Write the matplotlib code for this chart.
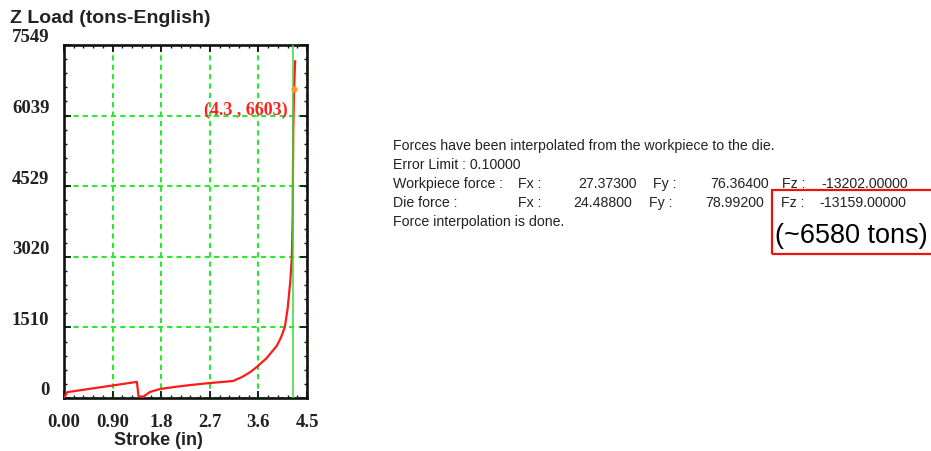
import matplotlib
matplotlib.use("Agg")
import matplotlib.pyplot as plt
import matplotlib.transforms as mtransforms
from matplotlib.patches import Rectangle
from matplotlib.ticker import MultipleLocator

# Z load vs stroke
stroke = [0.0, 0.06, 0.5, 1.0, 1.35, 1.38, 1.46, 1.59, 1.78, 2.09, 2.4, 2.7, 3.0,
          3.13, 3.3, 3.45, 3.57, 3.75, 3.94, 4.02, 4.09, 4.14, 4.19, 4.22, 4.235,
          4.245, 4.26, 4.28]
load = [0, 125, 200, 285, 345, 40, 20, 128, 193, 243, 285, 320, 350,
        364, 450, 555, 664, 850, 1114, 1300, 1520, 1900, 2485, 3020, 3900,
        5700, 6603, 7200]

peak_x = 4.26
peak_y = 6603
marker_x = 4.245

x_ticks = [0.0, 0.9, 1.8, 2.7, 3.6, 4.5]
x_labels = ["0.00", "0.90", "1.8", "2.7", "3.6", "4.5"]
y_ticks = [0, 1510, 3020, 4529, 6039, 7549]
y_labels = ["0", "1510", "3020", "4529", "6039", "7549"]

log_lines = [
    "Forces have been interpolated from the workpiece to the die.",
    "Error Limit : 0.10000",
]
row_names = ["Workpiece force :", "Die force :"]
fx_vals = ["27.37300", "24.48800"]
fy_vals = ["76.36400", "78.99200"]
fz_vals = ["-13202.00000", "-13159.00000"]
last_line = "Force interpolation is done."
tons_note = "(~6580 tons)"

W, H = 931, 452


def fx(px):
    return px / W


def fy(py):
    return 1 - py / H


fig = plt.figure(figsize=(W / 100, H / 100), dpi=100)
ax = fig.add_axes([fx(64), fy(399), 243 / W, 353 / H])

serif_bold = dict(family="Liberation Serif", weight="bold")
green = "#2ee82e"

ax.plot(stroke, load, color="#ff1a1a", lw=1.6, zorder=3)
ax.axvline(marker_x, color="#33dd33", lw=1.1, zorder=4)
ax.plot([peak_x], [peak_y], "o", color="#ff9a1a", ms=3.5, zorder=5)
ax.annotate(f"({peak_x:.1f} , {peak_y})", xy=(peak_x, peak_y),
            xytext=(-4.5, -17.5), textcoords="offset points",
            ha="right", va="baseline", color="#ff2020", fontsize=13,
            **serif_bold)

ax.set_xlim(0, 4.5)
ax.set_ylim(0, 7549)
ax.set_xticks(x_ticks, x_labels)
ax.set_yticks(y_ticks, y_labels)
ax.xaxis.set_minor_locator(MultipleLocator(0.18))
ax.yaxis.set_minor_locator(MultipleLocator(302))
ax.grid(True, which="major", color=green, lw=1.5, ls=(0, (2.5, 2)))
ax.set_axisbelow(True)

ax.tick_params(which="both", direction="in", top=True, right=True,
               color="#111111")
ax.tick_params(which="major", length=5, width=1.3)
ax.tick_params(which="minor", length=2.5, width=1.0)
ax.tick_params(axis="x", pad=11)
ax.tick_params(axis="y", pad=10.5)
for lab in ax.get_xticklabels() + ax.get_yticklabels():
    lab.set_fontproperties(matplotlib.font_manager.FontProperties(
        family="Liberation Serif", weight="bold", size=13.5))
    lab.set_color("#222222")
shift = mtransforms.ScaledTranslation(0, 0.10, fig.dpi_scale_trans)
for lab in ax.get_yticklabels():
    lab.set_transform(lab.get_transform() + shift)

for sp in ax.spines.values():
    sp.set_linewidth(1.9)
    sp.set_color("#111111")

fig.text(fx(10), fy(23), "Z Load (tons-English)", ha="left", va="baseline",
         fontsize=14, family="Liberation Sans", weight="bold", color="#222222")
fig.text(fx(158), fy(445), "Stroke (in)", ha="center", va="baseline",
         fontsize=13, family="Liberation Sans", weight="bold", color="#222222")

# force log on the right
small = dict(fontsize=10.2, family="Liberation Sans", color="#222222",
             va="baseline")
base = [150, 169, 188, 207, 226]
fig.text(fx(393), fy(base[0]), log_lines[0], ha="left", **small)
fig.text(fx(393), fy(base[1]), log_lines[1], ha="left", **small)
fx_right = [637, 632]
fy_left = [653, 649]
fy_right = [769, 764]
fz_left = [782, 781]
fz_val_left = [821, 819]
for i in range(2):
    yb = fy(base[2 + i])
    fig.text(fx(393), yb, row_names[i], ha="left", **small)
    fig.text(fx(518), yb, "Fx :", ha="left", **small)
    fig.text(fx(fx_right[i]), yb, fx_vals[i], ha="right", **small)
    fig.text(fx(fy_left[i]), yb, "Fy :", ha="left", **small)
    fig.text(fx(fy_right[i]), yb, fy_vals[i], ha="right", **small)
    fig.text(fx(fz_left[i]), yb, "Fz :", ha="left", **small)
    fig.text(fx(fz_val_left[i]), yb, fz_vals[i], ha="left", **small)
fig.text(fx(393), fy(base[4]), last_line, ha="left", **small)

fig.text(fx(775), fy(243), tons_note, ha="left", va="baseline", fontsize=19.5,
         family="Liberation Sans", color="black")
fig.patches.append(Rectangle((fx(772), fy(255)), fx(170), 64 / H,
                             transform=fig.transFigure, fill=False,
                             edgecolor="#ee1111", lw=1.6, clip_on=False))

fig.savefig("out.png", dpi=100)
